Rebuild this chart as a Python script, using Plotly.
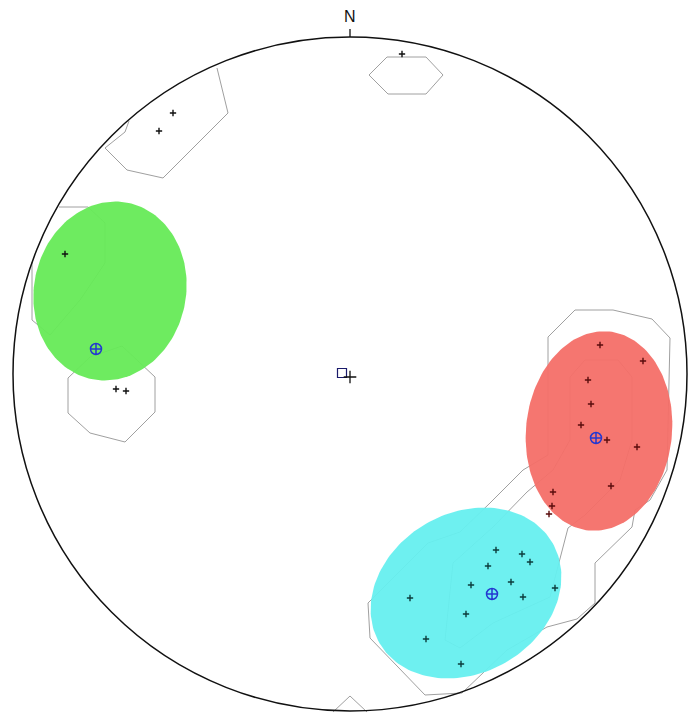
import numpy as np
import plotly.graph_objects as go

# Equal-area net, radius in plot units; x east, y north
R = 337

# Individual poles (x, y) on the net
pole_x = [52, -177, -191, -285, -234, -224]
pole_y = [320, 261, 243, 120, -15, -17]

set1_x = [250, 293, 238, 241, 231, 257, 287, 261, 203, 202, 199]
set1_y = [29, 13, -6, -30, -51, -66, -73, -112, -118, -132, -140]

set2_x = [146, 172, 180, 138, 121, 161, 173, 205, 60, 116, 76, 111]
set2_y = [-176, -180, -188, -192, -211, -208, -223, -214, -224, -240, -265, -290]

# Set means
mean_x = [-254, 246, 142]
mean_y = [25, -64, -220]

# Confidence ellipses: centre, semi-major, semi-minor, azimuth of major axis (deg from +x)
ell_cx = [-240, 249, 116]
ell_cy = [83, -57, -219]
ell_a = [90, 100, 100]
ell_b = [76, 73, 80]
ell_ang = [78, 84, 30]
ell_col = ["#66ea57", "#f46f68", "#66efef"]

# Density contours (x list, y list)
contours = [
    ([19, 37, 76, 93, 76, 38, 19], [299, 317, 317, 299, 280, 280, 299]),
    ([-133, -122, -187, -223, -245, -225, -221], [306, 261, 196, 204, 226, 242, 253]),
    ([-318, -318, -300, -270, -255, -245, -245, -262, -291],
     [112, 54, 39, 74, 96, 111, 151, 167, 167]),
    ([-260, -282, -282, -260, -225, -195, -195, -228, -260],
     [17, -4, -39, -59, -68, -38, -3, 28, 17]),
    ([-17, 0, 17], [-338, -322, -338]),
    ([198, 225, 263, 302, 320, 317, 300, 285, 282, 245, 245, 227, 197, 157, 112, 75, 20, 18,
      78, 110, 140, 173, 198, 198],
     [37, 64, 64, 55, 36, -96, -126, -136, -153, -189, -229, -245, -253, -276, -319, -321,
      -264, -229, -169, -158, -129, -96, -81, 37]),
    ([103, 143, 177, 203, 220, 220, 235, 268, 282, 282, 270, 235, 218, 200, 143, 110, 95, 103],
     [-189, -153, -118, -96, -66, -3, 14, 14, -3, -66, -106, -141, -154, -223, -249, -274,
      -266, -189]),
]

fig = go.Figure()

for cx, cy in contours:
    fig.add_trace(go.Scatter(x=cx, y=cy, mode="lines",
                             line=dict(color="#a0a0a0", width=1),
                             hoverinfo="skip", showlegend=False))

t = np.linspace(0, 2 * np.pi, 181)
for cx, cy, a, b, ang, col in zip(ell_cx, ell_cy, ell_a, ell_b, ell_ang, ell_col):
    th = np.radians(ang)
    ex = cx + a * np.cos(t) * np.cos(th) - b * np.sin(t) * np.sin(th)
    ey = cy + a * np.cos(t) * np.sin(th) + b * np.sin(t) * np.cos(th)
    fig.add_trace(go.Scatter(x=ex, y=ey, mode="lines", fill="toself",
                             fillcolor=col, opacity=0.95,
                             line=dict(color=col, width=0),
                             hoverinfo="skip", showlegend=False))

for px, py, c in [(pole_x, pole_y, "#111111"),
                  (set1_x, set1_y, "#5a0c0c"),
                  (set2_x, set2_y, "#0c3c3c")]:
    fig.add_trace(go.Scatter(x=px, y=py, mode="markers",
                             marker=dict(symbol="cross-thin", size=4.5, color=c,
                                         line=dict(color=c, width=1.4)),
                             showlegend=False))

fig.add_trace(go.Scatter(x=mean_x, y=mean_y, mode="markers",
                         marker=dict(symbol="circle-cross-open", size=11, color="#2438d0",
                                     line=dict(color="#2438d0", width=1.5)),
                         showlegend=False))

# Net centre and overall mean
fig.add_trace(go.Scatter(x=[-8], y=[1], mode="markers",
                         marker=dict(symbol="square-open", size=9, color="#1a1a6a",
                                     line=dict(color="#1a1a6a", width=1.2)),
                         showlegend=False))
fig.add_trace(go.Scatter(x=[0], y=[-3], mode="markers",
                         marker=dict(symbol="cross-thin-open", size=9, color="#111111",
                                     line=dict(color="#111111", width=1.3)),
                         showlegend=False))

fig.add_shape(type="circle", x0=-R, y0=-R, x1=R, y1=R,
              line=dict(color="#111111", width=1.5), layer="above")
fig.add_shape(type="line", x0=0, y0=R, x1=0, y1=R + 8,
              line=dict(color="#111111", width=1.3))
fig.add_annotation(x=0, y=R + 10, text="N", showarrow=False, yanchor="bottom",
                   font=dict(family="Liberation Sans, Arial", size=16, color="#111111"))

fig.update_layout(
    width=688, height=718,
    margin=dict(l=0, r=0, t=0, b=0),
    paper_bgcolor="white", plot_bgcolor="white",
    xaxis=dict(range=[-350, 338], visible=False, fixedrange=True),
    yaxis=dict(range=[-344, 374], visible=False, fixedrange=True),
)

fig.write_html("out.html")
